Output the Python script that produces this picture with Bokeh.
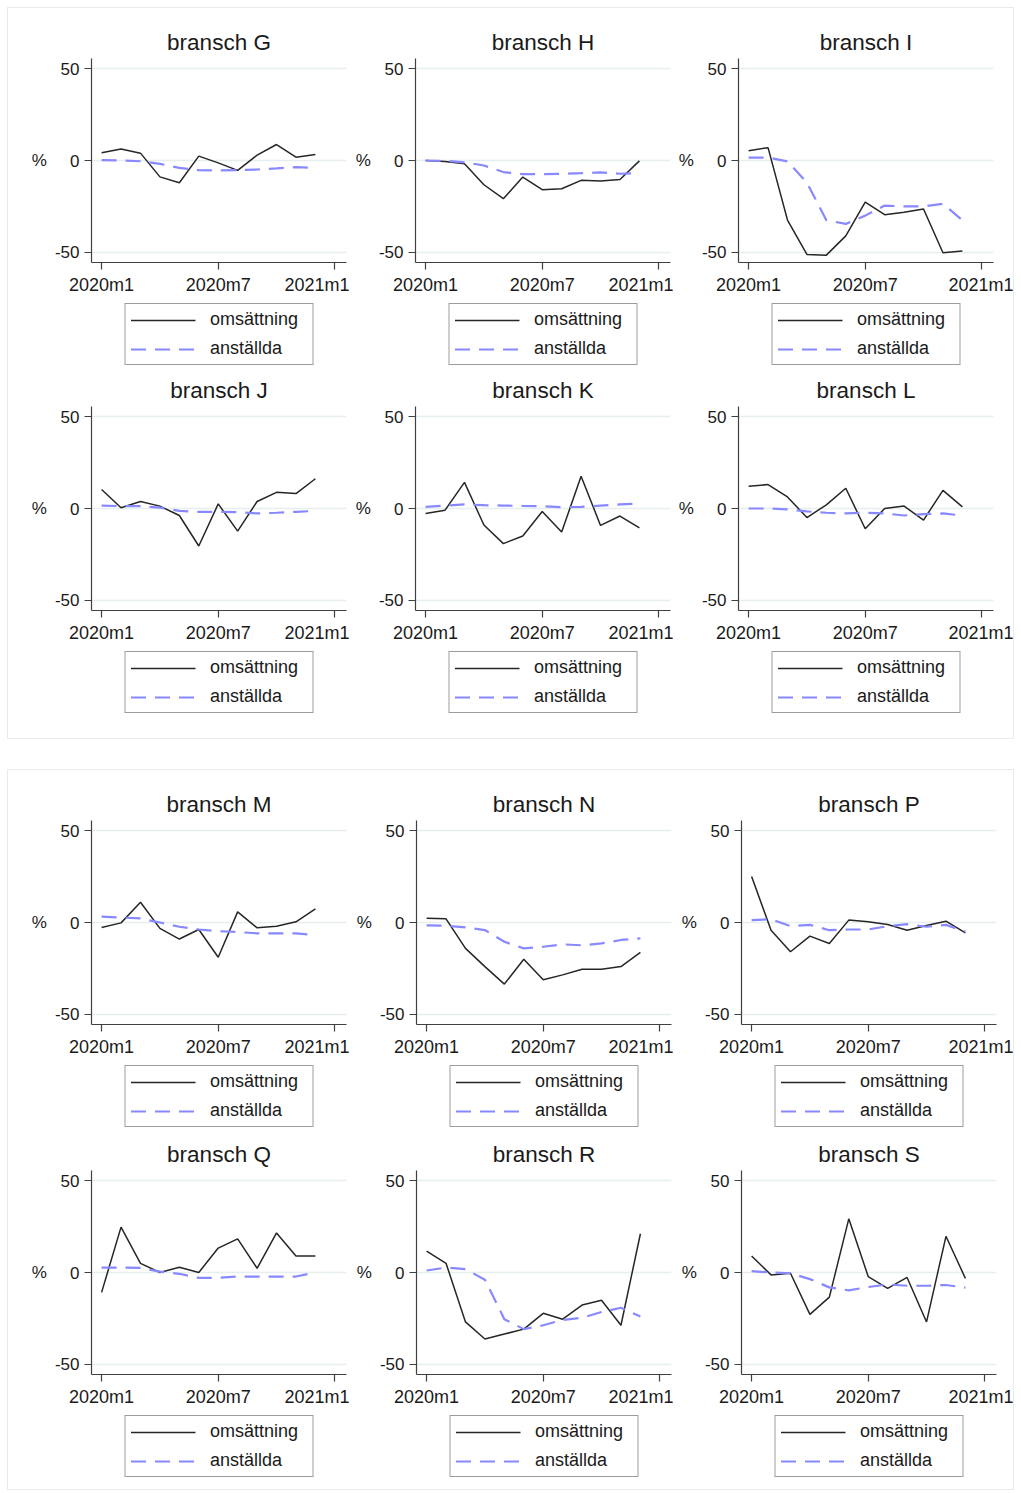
from bokeh.plotting import figure
from bokeh.layouts import row, column
from bokeh.models import Legend, LegendItem, FixedTicker, Range1d, Spacer
from bokeh.embed import file_html
from bokeh.resources import INLINE

# ---------------- data ----------------
months = list(range(12))                 # 2020m1 .. 2020m12
month_ticks = [0, 6, 12]
month_labels = ["2020m1", "2020m7", "2021m1"]
y_ticks = [-50, 0, 50]
y_tick_labels = ["-50", "0", "50"]
series_names = ["omsättning", "anställda"]

titles = ["bransch G", "bransch H", "bransch I", "bransch J", "bransch K", "bransch L",
          "bransch M", "bransch N", "bransch P", "bransch Q", "bransch R", "bransch S"]

oms_G = [4.2, 6.3, 4.0, -8.9, -12.1, 2.4, -1.3, -5.4, 2.9, 8.7, 1.8, 3.3]
anst_G = [0.2, 0.0, -0.4, -1.8, -4.0, -5.2, -5.4, -5.2, -4.9, -4.3, -3.6, -4.0]
oms_H = [0.0, -0.5, -1.8, -13.2, -20.8, -9.0, -15.9, -15.4, -10.8, -11.2, -10.3, -0.2]
anst_H = [0.0, -0.2, -1.0, -2.7, -6.3, -7.4, -7.4, -7.2, -6.9, -6.5, -7.2, -6.9]
oms_I = [5.3, 7.0, -32.4, -51.1, -51.5, -41.0, -22.7, -29.5, -28.2, -26.4, -50.2, -49.3]
anst_I = [1.6, 1.6, -0.5, -12.0, -32.5, -34.5, -30.0, -24.5, -25.0, -25.0, -23.5, -32.5]
oms_J = [10.3, 0.4, 3.8, 1.3, -3.8, -20.4, 2.5, -12.3, 3.8, 8.8, 8.1, 16.2]
anst_J = [1.6, 1.3, 1.3, 0.5, -1.3, -1.8, -1.8, -2.0, -2.7, -2.3, -1.8, -1.3]
oms_K = [-2.7, -0.9, 14.2, -9.0, -19.1, -15.0, -1.6, -12.8, 17.5, -9.2, -4.1, -10.6]
anst_K = [0.9, 1.6, 2.2, 1.8, 1.6, 1.4, 1.3, 0.7, 0.9, 1.6, 2.2, 2.7]
oms_L = [12.1, 13.0, 6.3, -4.9, 2.0, 11.0, -11.0, 0.0, 1.3, -6.3, 9.9, 0.9]
anst_L = [0.0, 0.0, -0.5, -1.6, -2.3, -2.7, -2.3, -2.7, -3.8, -3.1, -2.7, -3.8]
oms_M = [-2.7, -0.2, 11.0, -3.2, -9.0, -3.8, -18.9, 5.8, -2.9, -2.0, 0.4, 7.4]
anst_M = [3.2, 2.7, 2.2, 0.0, -2.3, -3.8, -4.7, -5.2, -5.9, -5.9, -5.9, -6.8]
oms_N = [2.3, 2.0, -14.1, -24.0, -33.5, -20.0, -31.2, -28.5, -25.4, -25.4, -24.0, -16.2]
anst_N = [-1.6, -1.8, -2.7, -4.1, -10.5, -14.1, -13.2, -11.9, -12.4, -11.4, -9.5, -8.6]
oms_P = [25.0, -4.2, -15.9, -7.4, -11.4, 1.3, 0.4, -1.1, -4.2, -1.6, 0.7, -5.6]
anst_P = [1.3, 1.8, -2.0, -1.3, -4.2, -3.8, -3.8, -2.0, -0.9, -2.3, -1.3, -4.9]
oms_Q = [-10.8, 24.7, 5.0, 0.0, 2.9, 0.0, 13.3, 18.3, 2.3, 21.5, 9.0, 9.0]
anst_Q = [2.7, 2.7, 2.5, 0.5, -0.7, -2.9, -2.9, -2.2, -2.2, -2.2, -2.2, 0.0]
oms_R = [11.6, 5.0, -26.9, -36.2, -33.5, -30.8, -22.2, -25.4, -17.7, -15.1, -28.7, 21.1]
anst_R = [1.1, 2.7, 1.8, -3.9, -25.4, -30.8, -28.7, -25.8, -24.6, -21.5, -19.2, -24.0]
oms_S = [9.0, -1.3, -0.4, -22.8, -13.4, 29.2, -2.2, -8.6, -2.7, -26.9, 19.7, -3.2]
anst_S = [0.7, 0.0, -0.4, -3.6, -8.1, -9.7, -7.9, -6.5, -7.2, -7.2, -6.8, -8.2]

oms_all = [oms_G, oms_H, oms_I, oms_J, oms_K, oms_L, oms_M, oms_N, oms_P, oms_Q, oms_R, oms_S]
anst_all = [anst_G, anst_H, anst_I, anst_J, anst_K, anst_L, anst_M, anst_N, anst_P, anst_Q, anst_R, anst_S]

# ---------------- style ----------------
FONT = "Liberation Sans"
TXT = "#1a1a1a"
AXIS = "#404040"
GRID = "#e6eef0"
OMS_COL = "#262626"
ANST_COL = "#8888ff"
FRAME_W = 255
FRAME_H = 204
AXIS_BOTTOM = 36
LEG_H = 72

oms_style = dict(line_color=OMS_COL, line_width=1.5)
anst_style = dict(line_color=ANST_COL, line_width=2.2, line_dash="15 9")


def make_main(idx, width, left, top):
    right = width - left - FRAME_W
    height = top + FRAME_H + AXIS_BOTTOM
    p = figure(width=width, height=height, output_backend="svg", toolbar_location=None,
               x_range=Range1d(-0.52, 12.6), y_range=Range1d(-55.5, 55.5),
               min_border_left=left, min_border_right=right,
               min_border_top=top, min_border_bottom=AXIS_BOTTOM,
               outline_line_color=None, background_fill_color="white",
               border_fill_color="white", title=titles[idx])
    p.line(months, oms_all[idx], **oms_style)
    p.line(months, anst_all[idx], **anst_style)

    p.title.align = "center"
    p.title.text_font = FONT
    p.title.text_font_size = "22.5px"
    p.title.text_font_style = "normal"
    p.title.text_color = TXT
    p.title.standoff = 7

    p.xaxis.ticker = FixedTicker(ticks=month_ticks)
    p.xaxis.major_label_overrides = dict(zip(month_ticks, month_labels))
    p.yaxis.ticker = FixedTicker(ticks=y_ticks)
    p.yaxis.major_label_overrides = dict(zip(y_ticks, y_tick_labels))
    for ax in (p.xaxis, p.yaxis):
        ax.axis_line_color = AXIS
        ax.axis_line_width = 1.2
        ax.major_tick_line_color = AXIS
        ax.major_tick_line_width = 1.2
        ax.major_tick_out = 7
        ax.major_tick_in = 0
        ax.minor_tick_line_color = None
        ax.major_label_text_font = FONT
        ax.major_label_text_color = TXT
        ax.major_label_standoff = 5
    p.xaxis.major_label_text_font_size = "18px"
    p.yaxis.major_label_text_font_size = "17px"
    p.yaxis.axis_label = "%"
    p.yaxis.axis_label_orientation = "horizontal"
    p.yaxis.axis_label_text_font = FONT
    p.yaxis.axis_label_text_font_size = "17px"
    p.yaxis.axis_label_text_font_style = "normal"
    p.yaxis.axis_label_text_color = TXT
    p.yaxis.axis_label_standoff = 5

    p.xgrid.visible = False
    p.ygrid.ticker = FixedTicker(ticks=y_ticks)
    p.ygrid.grid_line_color = GRID
    p.ygrid.grid_line_width = 1.5
    return p


def make_legend(idx, width, left):
    right = width - left - FRAME_W
    # the same series are drawn here, but this strip looks at an empty part of the
    # data space, so only the legend (with its line samples) is visible
    lf = figure(width=width, height=LEG_H, output_backend="svg", toolbar_location=None,
                x_axis_type=None, y_axis_type=None,
                x_range=Range1d(1000, 1001), y_range=Range1d(1000, 1001),
                min_border_left=left, min_border_right=right,
                min_border_top=0, min_border_bottom=0,
                outline_line_color=None, background_fill_color="white",
                border_fill_color="white")
    r1 = lf.line(months, oms_all[idx], **oms_style)
    r2 = lf.line(months, anst_all[idx], **anst_style)
    legend = Legend(items=[LegendItem(label=series_names[0], renderers=[r1]),
                           LegendItem(label=series_names[1], renderers=[r2])],
                    location="center", orientation="vertical")
    legend.border_line_color = "#3c3c3c"
    legend.border_line_width = 1.2
    legend.background_fill_color = "white"
    legend.background_fill_alpha = 1.0
    legend.label_text_font = FONT
    legend.label_text_font_size = "18px"
    legend.label_text_color = TXT
    legend.glyph_width = 65
    legend.glyph_height = 20
    legend.label_height = 20
    legend.label_width = 97
    legend.label_standoff = 15
    legend.padding = 5
    legend.spacing = 8
    legend.margin = 0
    lf.add_layout(legend)
    return lf


def panel(start, widths, lefts, tops, gaps):
    rows = []
    for r in range(2):
        cells = []
        for c in range(3):
            idx = start + r * 3 + c
            cell = [make_main(idx, widths[c], lefts[c], tops[r]),
                    make_legend(idx, widths[c], lefts[c])]
            if gaps[r] > 0:
                cell.append(Spacer(width=widths[c], height=gaps[r]))
            cells.append(column(*cell, spacing=0))
        rows.append(row(*cells, spacing=0))
    return column(*rows, spacing=0, styles={"outline": "1px solid #e8ebec"})


panel_a = panel(0, [341, 324, 340], [83, 66, 65], [50, 36], [0, 20])
panel_b = panel(6, [341, 324, 340], [83, 67, 68], [50, 38], [0, 7])

content = column(panel_a, Spacer(height=32), panel_b, spacing=0)
layout = column(Spacer(height=8), row(Spacer(width=8), content, spacing=0), spacing=0)

open("out.html", "w").write(file_html(layout, INLINE))
